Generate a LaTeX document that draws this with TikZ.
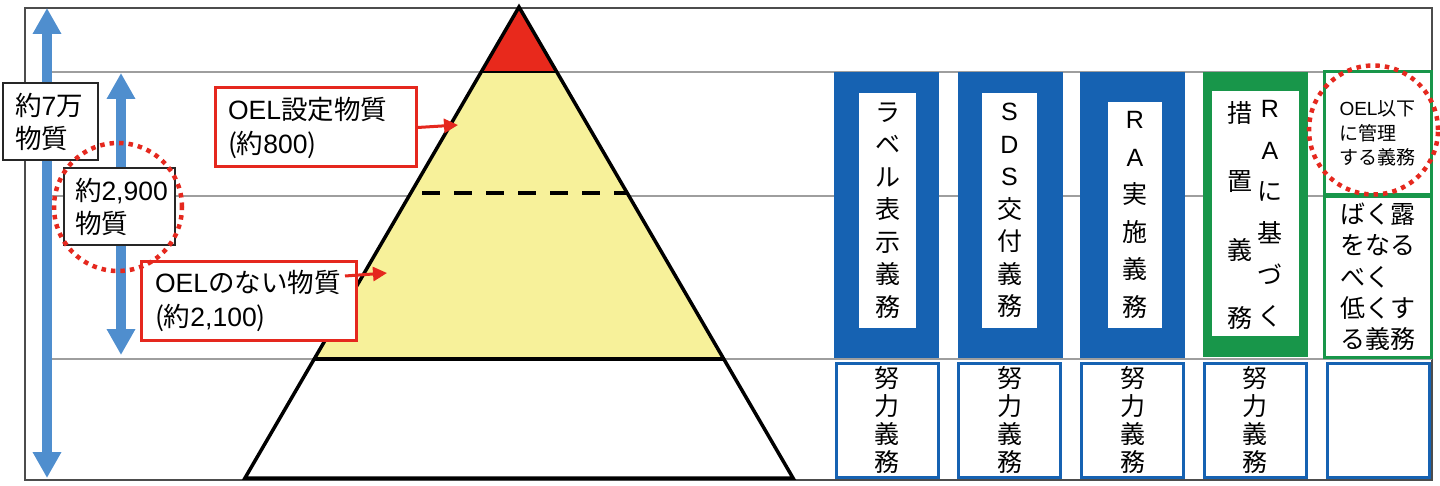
\documentclass[tikz,border=0pt]{standalone}
\usepackage{fontspec}
\setmainfont{Noto Sans CJK JP}
\newfontfamily\lat{Liberation Sans}
\usetikzlibrary{arrows.meta}
\definecolor{colblue}{HTML}{1662B2}
\definecolor{arrowblue}{HTML}{4F8ECE}
\definecolor{colgreen}{HTML}{18964A}
\definecolor{oelred}{HTML}{E5281E}
\definecolor{topred}{HTML}{E8291C}
\definecolor{pyryellow}{HTML}{F7F19A}
\tikzset{numbox/.style={draw=black!85,line width=1.5pt,fill=white,align=left,inner ysep=0pt,
        font=\fontsize{26.5}{33}\selectfont},
    oelbox/.style={draw=oelred,line width=3pt,fill=white,align=left,inner ysep=0pt,
        font=\fontsize{26.5}{34}\selectfont},
    bluearr/.style={draw=arrowblue,line width=10pt,
        {Triangle[width=27pt,length=26pt]}-{Triangle[width=27pt,length=26pt]}},
    redarr/.style={draw=oelred,line width=3pt,-{Triangle[width=14pt,length=14pt]}},
    gridline/.style={draw=black!38,line width=1.2pt},
    colframe/.style={minimum width=105pt,minimum height=285pt,inner sep=0pt},
    colpane/.style={fill=white,inner sep=0pt,align=center},
    effbox/.style={draw=colblue,line width=3pt,fill=white,minimum width=102pt,minimum height=114pt,
        inner sep=0pt,align=center,font=\fontsize{25}{27.7}\selectfont},
    greenbox/.style={draw=colgreen,line width=3pt,fill=white,minimum width=107pt,inner sep=0pt,align=left},
    dotring/.style={circle,draw=oelred,line width=4.5pt,dash pattern=on 4.5pt off 5pt,inner sep=0pt}}

\begin{document}
\begin{tikzpicture}[x=1pt,y=-1pt]
  \useasboundingbox (0,0) rectangle (1440,486);
  \draw[line width=1.5pt,draw=black!70] (25,8) rectangle (1432,480);
  \draw[gridline] (52,72) -- (1432,72);
  \draw[gridline] (52,196) -- (1432,196);
  \draw[gridline] (52,359) -- (1432,359);

  \coordinate (apex) at (519,7);
  \coordinate (bl) at (245,478);
  \coordinate (br) at (793,478);
  \fill[topred] (apex) -- (481.2,72) -- (556.8,72) -- cycle;
  \fill[pyryellow] (481.2,72) -- (556.8,72) -- (723.8,359) -- (314.2,359) -- cycle;
  \draw[line width=2pt] (481.2,72) -- (556.8,72);
  \draw[line width=3.5pt] (314.2,359) -- (723.8,359);
  \draw[line width=4pt,dash pattern=on 18pt off 14pt] (422,193) -- (627,193);
  \draw[line width=3.5pt] (apex) -- (bl) -- (br) -- cycle;

  \coordinate (alltop) at (47,8);
  \coordinate (allbot) at (47,478);
  \coordinate (sdstop) at (121,73);
  \coordinate (sdsbot) at (121,355);
  \draw[bluearr] (alltop) -- (allbot);
  \draw[bluearr] (sdstop) -- (sdsbot);

  \node[numbox,text width=71pt,inner xsep=12pt,minimum height=77pt] (all) at (50.5,121.5) {約{\lat 7}万\\物質};
  \node[numbox,text width=89pt,inner xsep=11pt,minimum height=77pt] (sds) at (119.5,206.5) {約{\lat 2,900}\\物質};
  \node[oelbox,text width=175pt,inner xsep=13pt,minimum height=79pt] (oelset) at (315.5,127.5) {{\lat OEL}設定物質\\(約{\lat 800})};
  \node[oelbox,text width=187pt,inner xsep=14pt,minimum height=78pt] (oelnone) at (248.5,301) {{\lat OEL}のない物質\\(約{\lat 2,100})};
  \coordinate (setpt) at (458,125);
  \coordinate (nonefrom) at (345,276);
  \coordinate (nonept) at (387,273);
  \draw[redarr] (oelset.east) -- (setpt);
  \draw[redarr] (nonefrom) -- (nonept);

  \node[colframe,fill=colblue] (label) at (886.5,215) {};
  \node[colpane,minimum width=57pt,minimum height=235pt,font=\fontsize{25}{32.5}\selectfont]
     (labeltxt) at (887.5,210.5) {ラ\\ベ\\ル\\表\\示\\義\\務};
  \node[colframe,fill=colblue] (sdsdoc) at (1010,215) {};
  \node[colpane,minimum width=55pt,minimum height=235pt,font=\fontsize{25}{32.5}\selectfont]
     (sdstxt) at (1009.5,210.5) {\lat S\\\lat D\\\lat S\\交\\付\\義\\務};
  \node[colframe,fill=colblue] (ra) at (1132,215) {};
  \node[colpane,minimum width=54pt,minimum height=226pt,font=\fontsize{25}{37.6}\selectfont]
     (ratxt) at (1135,215) {\lat R\\\lat A\\実\\施\\義\\務};
  \node[colframe,fill=colgreen] (ramea) at (1255.5,214.5) {};
  \node[colpane,minimum width=87pt,minimum height=245pt] (rameapane) at (1255.5,213.5) {};
  \node[align=center,inner sep=0pt,font=\fontsize{25}{41.6}\selectfont]
     (rameatxt) at (1270,214) {\lat R\\\lat A\\に\\基\\づ\\く};
  \node[align=center,inner sep=0pt,font=\fontsize{25}{68.3}\selectfont]
     (rameaduty) at (1240,215.5) {措\\置\\義\\務};
  \node[greenbox,minimum height=123pt,font=\fontsize{19}{24.5}\selectfont]
     (oellim) at (1377.5,133.5) {{\lat OEL}以下\\に管理\\する義務};
  \node[greenbox,minimum height=160pt,font=\fontsize{25}{31.3}\selectfont]
     (expose) at (1377.5,277) {ばく露\\をなる\\べく\\低くす\\る義務};

  \node[effbox] (labeleff) at (887,420) {努\\力\\義\\務};
  \node[effbox] (sdseff) at (1009.5,420) {努\\力\\義\\務};
  \node[effbox] (raeff) at (1132.5,420) {努\\力\\義\\務};
  \node[effbox] (rameaeff) at (1255,420) {努\\力\\義\\務};
  \node[effbox] (exposeeff) at (1378,420) {};

  \node[dotring,minimum size=128pt] (ringsds) at (118,207) {};
  \node[dotring,minimum size=129pt] (ringoel) at (1373.5,130) {};
\end{tikzpicture}
\end{document}
